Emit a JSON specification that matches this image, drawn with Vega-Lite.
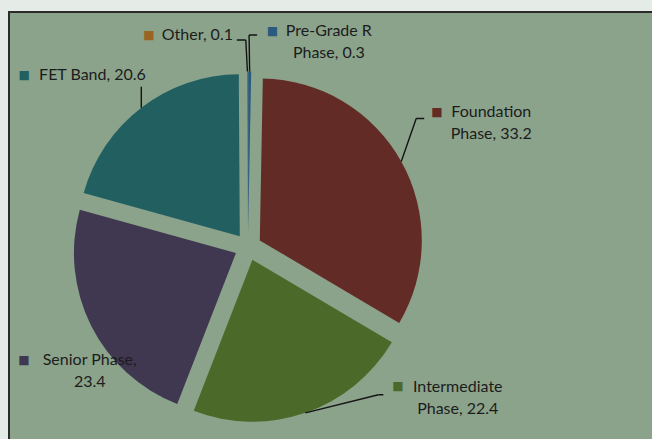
{
  "$schema": "https://vega.github.io/schema/vega-lite/v6.json",
  "width": 643,
  "height": 427,
  "autosize": {"type": "none"},
  "padding": {"left": 9, "top": 12, "right": 0, "bottom": 0},
  "background": "#e5ebe7",
  "view": {"fill": "#8ba38b", "stroke": "#2b2b2b", "strokeWidth": 2, "strokeDash": [643, 1070, 427, 1]},
  "data": {
    "values": [
      {"i": 1, "cat": "Pre-Grade R Phase", "value": 0.3, "label": "Pre-Grade R\nPhase, 0.3"},
      {"i": 2, "cat": "Foundation Phase", "value": 33.2, "label": "Foundation\nPhase, 33.2"},
      {"i": 3, "cat": "Intermediate Phase", "value": 22.4, "label": "Intermediate\nPhase, 22.4"},
      {"i": 4, "cat": "Senior Phase", "value": 23.4, "label": "Senior Phase,\n23.4"},
      {"i": 5, "cat": "FET Band", "value": 20.6, "label": "FET Band, 20.6"},
      {"i": 6, "cat": "Other", "value": 0.1, "label": "Other, 0.1"}
    ]
  },
  "transform": [
    {"stack": "value", "groupby": [], "sort": [{"field": "i", "order": "ascending"}], "as": ["s", "e"]}
  ],
  "layer": [
    {
      "mark": {
        "type": "arc",
        "outerRadius": 162,
        "x": {"expr": "239 + 13.5*sin(PI*(datum.value_start+datum.value_end)/100)"},
        "y": {"expr": "235 - 13.5*cos(PI*(datum.value_start+datum.value_end)/100)"}
      },
      "encoding": {
        "theta": {"field": "value", "type": "quantitative", "stack": true},
        "order": {"field": "i", "type": "quantitative"},
        "color": {
          "field": "cat",
          "type": "nominal",
          "legend": null,
          "scale": {
            "domain": ["Pre-Grade R Phase", "Foundation Phase", "Intermediate Phase", "Senior Phase", "FET Band", "Other"],
            "range": ["#2b5a7e", "#622b26", "#4b6a2a", "#403750", "#215f60", "#9a6424"]
          }
        }
      }
    },
    {
      "transform": [{"filter": "datum.i != 4"}],
      "mark": {
        "type": "arc",
        "fill": "transparent",
        "stroke": "#141414",
        "strokeWidth": 1.4,
        "x": {"expr": "239 + 175.5*sin(PI*(datum.s+datum.e)/100)"},
        "y": {"expr": "235 - 175.5*cos(PI*(datum.s+datum.e)/100)"},
        "theta": {"expr": "(datum.i==1?-0.9:datum.i==2?19.2:datum.i==3?76.1:datum.i==5?0:-3)*PI/180"},
        "theta2": {"expr": "(datum.i==1?-0.9:datum.i==2?19.2:datum.i==3?76.1:datum.i==5?0:-3)*PI/180"},
        "radius": {"expr": "datum.i==1?36.5:datum.i==2?45.5:datum.i==3?75.2:datum.i==5?21:31.5"},
        "radius2": 0
      },
      "encoding": {}
    },
    {
      "transform": [{"filter": "datum.i != 4 && datum.i != 5"}],
      "mark": {
        "type": "arc",
        "fill": "transparent",
        "stroke": "#141414",
        "strokeWidth": 1.4,
        "x": {"expr": "239 + 175.5*sin(PI*(datum.s+datum.e)/100) + (datum.i==1?36.5:datum.i==2?45.5:datum.i==3?75.2:31.5)*sin((datum.i==1?-0.9:datum.i==2?19.2:datum.i==3?76.1:-3)*PI/180)"},
        "y": {"expr": "235 - 175.5*cos(PI*(datum.s+datum.e)/100) - (datum.i==1?36.5:datum.i==2?45.5:datum.i==3?75.2:31.5)*cos((datum.i==1?-0.9:datum.i==2?19.2:datum.i==3?76.1:-3)*PI/180)"},
        "theta": {"expr": "(datum.i==6?-90:90)*PI/180"},
        "theta2": {"expr": "(datum.i==6?-90:90)*PI/180"},
        "radius": {"expr": "datum.i==1?8:datum.i==2?8:datum.i==3?5:9"},
        "radius2": 0
      },
      "encoding": {}
    },
    {
      "mark": {
        "type": "text",
        "radius": 195,
        "x": 239,
        "y": 235,
        "lineBreak": "\n",
        "font": "Lato",
        "fontSize": 16,
        "lineHeight": 22,
        "align": "center",
        "baseline": "middle",
        "color": "#1c1c1c",
        "dx": {"expr": "datum.i==1?79:datum.i==2?73:datum.i==3?146:datum.i==4?16:datum.i==5?-37:-50"},
        "dy": {"expr": "datum.i==1?-21:datum.i==2?-40:datum.i==3?-44:datum.i==4?25.6:datum.i==5?-17:-17"}
      },
      "encoding": {
        "theta": {"field": "value", "type": "quantitative", "stack": true},
        "order": {"field": "i", "type": "quantitative"},
        "text": {"field": "label"}
      }
    },
    {
      "mark": {
        "type": "text",
        "radius": 195,
        "x": 239,
        "y": 235,
        "text": "■",
        "font": "DejaVu Sans",
        "fontSize": 12,
        "align": "center",
        "baseline": "middle",
        "dx": {"expr": "datum.i==1?22.7:datum.i==2?18.7:datum.i==3?86.3:datum.i==4?-49.7:datum.i==5?-105.4:-98.4"},
        "dy": {"expr": "datum.i==1?-21:datum.i==2?-40:datum.i==3?-45:datum.i==4?25.6:datum.i==5?-17.2:-17"}
      },
      "encoding": {
        "theta": {"field": "value", "type": "quantitative", "stack": true},
        "order": {"field": "i", "type": "quantitative"},
        "color": {"field": "cat", "type": "nominal", "legend": null}
      }
    }
  ]
}
